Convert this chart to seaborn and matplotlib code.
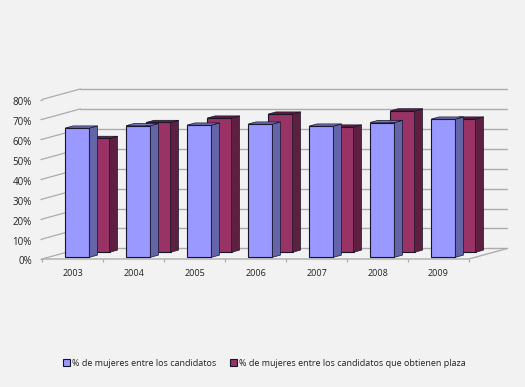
import matplotlib
matplotlib.use('Agg')
import matplotlib.pyplot as plt
import seaborn as sns
from matplotlib.patches import Patch, Polygon
from matplotlib.transforms import Affine2D

years = ['2003', '2004', '2005', '2006', '2007', '2008', '2009']
candidatos = [64.8, 66.0, 66.3, 66.8, 65.8, 67.6, 69.3]
con_plaza = [57.1, 65.1, 67.3, 69.3, 62.8, 70.9, 66.8]
y_ticks = [0, 10, 20, 30, 40, 50, 60, 70, 80]
y_labels = ['0%', '10%', '20%', '30%', '40%', '50%', '60%', '70%', '80%']
names = ['% de mujeres entre los candidatos',
         '% de mujeres entre los candidatos que obtienen plaza']

sns.set_style('white')
plt.rcParams['font.family'] = ['Open Sans', 'DejaVu Sans']

bg = '#f2f2f2'
grid_col = '#acacac'
edge = '#15152a'

fig = plt.figure(figsize=(5.25, 3.87), dpi=100, facecolor=bg)
ax = fig.add_axes([42 / 525, 1 - 259 / 387, 427 / 525, 159.5 / 387], facecolor='none')

# oblique depth of the chart box, in data units
wall_dx = 0.63
wall_dy = 5.3


def draw_bars(values, color, side, top, shift, lift):
    n = len(ax.patches)
    sns.barplot(x=years, y=values, color=color, width=0.4, saturation=1, ax=ax)
    depth_x, depth_y = 0.131, 1.1
    for p in ax.patches[n:]:
        x0 = p.get_x() + shift
        w = p.get_width()
        h = p.get_height()
        p.set_x(x0)
        p.set_y(lift)
        p.set_edgecolor(edge)
        p.set_linewidth(0.8)
        p.set_zorder(5)
        p.set_clip_on(False)
        x1 = x0 + w
        y0, y1 = lift, lift + h
        ax.add_patch(Polygon([(x1, y0), (x1 + depth_x, y0 + depth_y),
                              (x1 + depth_x, y1 + depth_y), (x1, y1)],
                             fc=side, ec=edge, lw=0.5, zorder=5, clip_on=False))
        ax.add_patch(Polygon([(x0, y1), (x1, y1), (x1 + depth_x, y1 + depth_y),
                              (x0 + depth_x, y1 + depth_y)],
                             fc=top, ec=edge, lw=0.5, zorder=5, clip_on=False))


# back and side walls
for t in y_ticks:
    ax.plot([-0.5, -0.5 + wall_dx], [t, t + wall_dy], color=grid_col, lw=0.9,
            clip_on=False, zorder=1)
    ax.plot([-0.5 + wall_dx, 6.5 + wall_dx], [t + wall_dy, t + wall_dy], color=grid_col,
            lw=1.0, clip_on=False, zorder=1)
ax.plot([-0.5, 6.5, 6.5 + wall_dx], [0, 0, wall_dy], color=grid_col, lw=1.0,
        clip_on=False, zorder=2)

draw_bars(con_plaza, '#993366', '#5e2040', '#6b1c3e', 0.407, 3.37)
draw_bars(candidatos, '#9999ff', '#6464a8', '#7474bc', 0.078, 0.85)

ax.set_xlim(-0.5, 6.5)
ax.set_ylim(0, 80)
ax.set_xlabel('')
ax.set_ylabel('')
sns.despine(ax=ax, left=True, bottom=True, top=True, right=True)

ax.set_yticks(y_ticks)
ax.set_yticklabels(y_labels)
ax.set_xticks(range(len(years)))
ax.set_xticklabels(years)
ax.set_xticks([i - 0.5 for i in range(len(years) + 1)], minor=True)
ax.tick_params(axis='y', left=True, length=1.5, width=0.9, color=grid_col, pad=5.7,
               labelsize=7, labelcolor='#222222')
ax.tick_params(axis='x', which='major', bottom=False, length=0, pad=7,
               labelsize=6.5, labelcolor='#222222')
ax.tick_params(axis='x', which='minor', bottom=True, length=2, width=0.9, color=grid_col)

# labels sit a little under their ticks
for lab in ax.get_yticklabels():
    lab.set_transform(lab.get_transform() + Affine2D().translate(0, -1.5))

handles = [Patch(fc='#9999ff', ec=edge, lw=0.8), Patch(fc='#993366', ec=edge, lw=0.8)]
fig.legend(handles, names, loc='center left', bbox_to_anchor=(55 / 525, 1 - 363 / 387),
           ncol=2, frameon=False, fontsize=6.5, handlelength=0.75, handleheight=0.75,
           handletextpad=0.2, columnspacing=1.6, labelcolor='#222222')

fig.savefig('out.png', dpi=100, facecolor=bg)
